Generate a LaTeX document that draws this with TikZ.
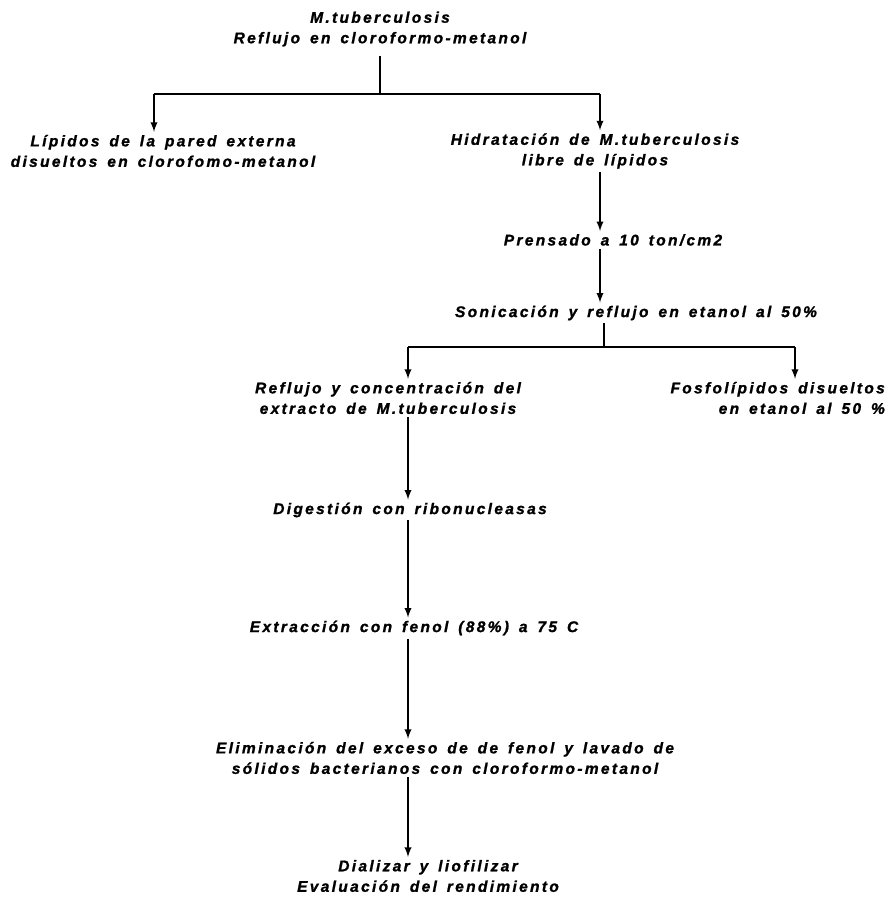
\documentclass[tikz,border=0pt]{standalone}
\usepackage{fontspec}
\newfontfamily\flujofont{Liberation Sans}[UprightFont={* Bold Italic},LetterSpace=15,WordSpace=1.5,FakeBold=1.2]
\newcommand\flujo{\flujofont\fontsize{15.5}{20.5}\selectfont}

\begin{document}
\begin{tikzpicture}[x=1pt,y=-1pt,
    paso/.style={font=\flujo,align=center,inner sep=3pt},
    linea/.style={line width=2.2pt},
    flecha/.style={line width=2.2pt,-latex}
]
\useasboundingbox (0,0) rectangle (890,897);

\node[paso] (top)  at (380,29)  {M.tuberculosis\\Reflujo en cloroformo-metanol};
\node[paso] (lip)  at (163,151) {Lípidos de la pared externa\\disueltos en clorofomo-metanol};
\node[paso] (hid)  at (595,151) {Hidratación de M.tuberculosis\\libre de lípidos};
\node[paso] (pren) at (613,240) {Prensado a 10 ton/cm2};
\node[paso] (soni) at (636,313) {Sonicación y reflujo en etanol al 50\%};
\node[paso] (refl) at (388,398) {Reflujo y concentración del\\extracto de M.tuberculosis};
\node[paso,align=right,anchor=east] (fosf) at (888,398) {Fosfolípidos disueltos\\en etanol al 50 \%};
\node[paso] (dige) at (410,510) {Digestión con ribonucleasas};
\node[paso] (extr) at (414,628) {Extracción con fenol (88\%) a 75 C};
\node[paso] (elim) at (445,758) {Eliminación del exceso de de fenol y lavado de\\sólidos bacterianos con cloroformo-metanol};
\node[paso] (dial) at (428,876) {Dializar y liofilizar\\Evaluación del rendimiento};

% puntos de ramificacion y columnas
\coordinate (j1)  at (380,94);
\coordinate (j1l) at (154,94);
\coordinate (j1r) at (600,94);
\coordinate (j2)  at (604,347);
\coordinate (j2l) at (408,347);
\coordinate (j2r) at (795,347);

\draw[linea,shorten <=6pt] (top) -- (j1);
\draw[linea] (j1l) -- (j1r);
\draw[flecha] (j1l) -- (j1l |- lip.north);
\draw[flecha] (j1r) -- (j1r |- hid.north);
\draw[flecha] (hid.south -| j1r) -- (pren.north -| j1r);
\draw[flecha] (pren.south -| j1r) -- (soni.north -| j1r);

\draw[linea] (soni.south -| j2) -- (j2);
\draw[linea] (j2l) -- (j2r);
\draw[flecha] (j2l) -- (j2l |- refl.north);
\draw[flecha] (j2r) -- (j2r |- fosf.north);

\draw[flecha] (refl.south -| j2l) -- (dige.north -| j2l);
\draw[flecha] (dige.south -| j2l) -- (extr.north -| j2l);
\draw[flecha] (extr.south -| j2l) -- (elim.north -| j2l);
\draw[flecha] (elim.south -| j2l) -- (dial.north -| j2l);
\end{tikzpicture}
\end{document}
